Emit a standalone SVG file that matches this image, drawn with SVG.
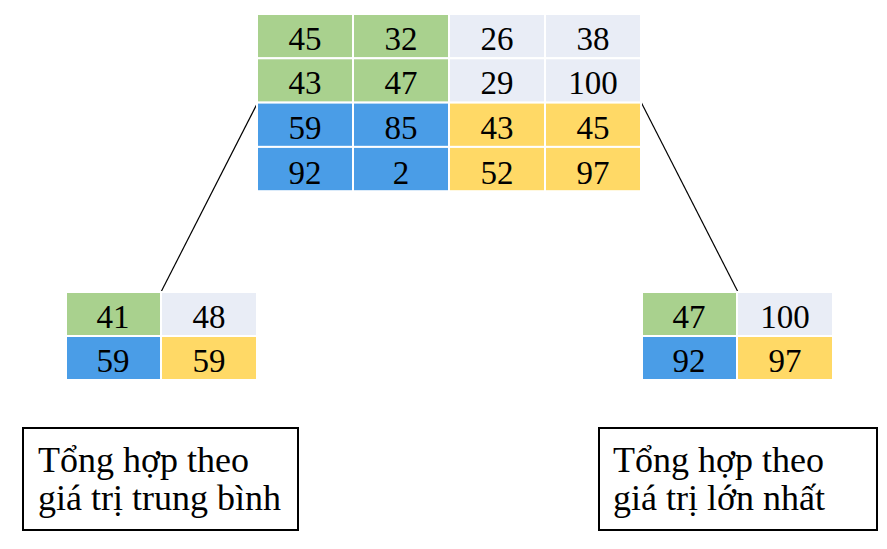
<svg xmlns="http://www.w3.org/2000/svg" width="887" height="549" viewBox="0 0 887 549">
<defs>
<symbol id="unused"/>
</defs>
<rect x="0" y="0" width="887" height="549" fill="#fff"/>
<g id="connectors" stroke="#000" stroke-width="1.2" fill="none">
<line x1="258" y1="102" x2="161" y2="292"/>
<line x1="641" y1="102" x2="738" y2="292"/>
</g>
<g id="input-grid" stroke="#fff" stroke-width="2">
<rect fill="#A9D18E" x="257" y="14" width="96" height="44.3"/>
<rect fill="#A9D18E" x="353" y="14" width="96" height="44.3"/>
<rect fill="#E9EDF6" x="449" y="14" width="96" height="44.3"/>
<rect fill="#E9EDF6" x="545" y="14" width="96" height="44.3"/>
<rect fill="#A9D18E" x="257" y="58.3" width="96" height="44.3"/>
<rect fill="#A9D18E" x="353" y="58.3" width="96" height="44.3"/>
<rect fill="#E9EDF6" x="449" y="58.3" width="96" height="44.3"/>
<rect fill="#E9EDF6" x="545" y="58.3" width="96" height="44.3"/>
<rect fill="#4A9DE7" x="257" y="102.6" width="96" height="44.3"/>
<rect fill="#4A9DE7" x="353" y="102.6" width="96" height="44.3"/>
<rect fill="#FFD966" x="449" y="102.6" width="96" height="44.3"/>
<rect fill="#FFD966" x="545" y="102.6" width="96" height="44.3"/>
<rect fill="#4A9DE7" x="257" y="146.9" width="96" height="44.3"/>
<rect fill="#4A9DE7" x="353" y="146.9" width="96" height="44.3"/>
<rect fill="#FFD966" x="449" y="146.9" width="96" height="44.3"/>
<rect fill="#FFD966" x="545" y="146.9" width="96" height="44.3"/>
<g stroke="none" fill="#000" font-family="Liberation Serif" font-size="33" text-anchor="middle">
<text x="305" y="50">45</text><text x="401" y="50">32</text><text x="497" y="50">26</text><text x="593" y="50">38</text>
<text x="305" y="94.3">43</text><text x="401" y="94.3">47</text><text x="497" y="94.3">29</text><text x="593" y="94.3">100</text>
<text x="305" y="139">59</text><text x="401" y="139">85</text><text x="497" y="139">43</text><text x="593" y="139">45</text>
<text x="305" y="184">92</text><text x="401" y="184">2</text><text x="497" y="184">52</text><text x="593" y="184">97</text>
</g>
</g>
<g id="avg-grid" stroke="#fff" stroke-width="2">
<rect fill="#A9D18E" x="66" y="292" width="95" height="44"/>
<rect fill="#E9EDF6" x="161" y="292" width="96" height="44"/>
<rect fill="#4A9DE7" x="66" y="336" width="95" height="44"/>
<rect fill="#FFD966" x="161" y="336" width="96" height="44"/>
<g stroke="none" fill="#000" font-family="Liberation Serif" font-size="33" text-anchor="middle">
<text x="113" y="328">41</text><text x="209" y="328">48</text>
<text x="113" y="372">59</text><text x="209" y="372">59</text>
</g>
</g>
<g id="max-grid" stroke="#fff" stroke-width="2">
<rect fill="#A9D18E" x="642" y="292" width="95" height="44"/>
<rect fill="#E9EDF6" x="737" y="292" width="96" height="44"/>
<rect fill="#4A9DE7" x="642" y="336" width="95" height="44"/>
<rect fill="#FFD966" x="737" y="336" width="96" height="44"/>
<g stroke="none" fill="#000" font-family="Liberation Serif" font-size="33" text-anchor="middle">
<text x="689" y="328">47</text><text x="785" y="328">100</text>
<text x="689" y="372">92</text><text x="785" y="372">97</text>
</g>
</g>
<g id="avg-label">
<rect fill="#fff" stroke="#000" stroke-width="2" x="23" y="428" width="275" height="102"/>
<text font-family="Liberation Serif" font-size="36" x="38" y="472">Tổng hợp theo</text>
<text font-family="Liberation Serif" font-size="36" x="38" y="510">giá trị trung bình</text>
</g>
<g id="max-label">
<rect fill="#fff" stroke="#000" stroke-width="2" x="599" y="428" width="278" height="102"/>
<text font-family="Liberation Serif" font-size="36" x="613" y="472">Tổng hợp theo</text>
<text font-family="Liberation Serif" font-size="36" x="613" y="510">giá trị lớn nhất</text>
</g>
</svg>
